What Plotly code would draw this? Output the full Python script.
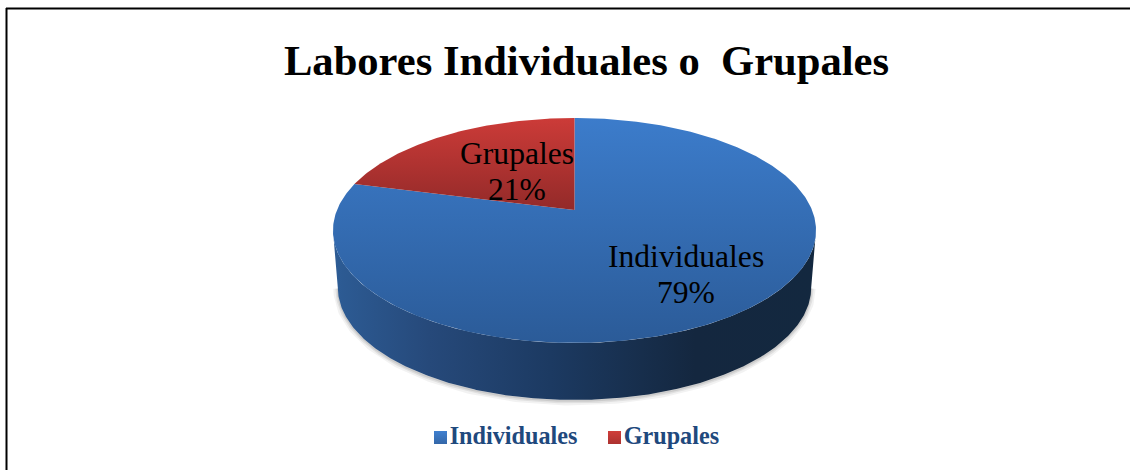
import numpy as np
import plotly.graph_objects as go

categories = ["Individuales", "Grupales"]
values = [79, 21]
title_text = "Labores Individuales o  Grupales"

SERIF = "Liberation Serif"
W, H = 1130, 470
CX, APEX_Y = 574.5, 210.0
K, B, A = 0.182, 237.5, 108.8
DEPTH_SCALE, DEPTH = 0.98, 57.0


def project(theta, drop=0.0, xscale=1.0):
    """Clockwise angle from 12 o'clock on a unit disc -> tilted perspective view."""
    u, v = np.sin(theta), np.cos(theta)
    w = 1 + K * v
    return CX + xscale * B * u / w, APEX_Y - A * v / w + drop


total = sum(values)
# Grupales occupies the wedge just before 12 o'clock; Individuales runs clockwise from 12.
ind_end = 2 * np.pi * values[0] / total
t_ind = np.linspace(0, ind_end, 400)
t_gru = np.linspace(ind_end, 2 * np.pi, 120)

fig = go.Figure()

# soft shadow
widest = np.arccos(-K)
t_shadow = np.linspace(widest, 2 * np.pi - widest, 300)
sx, sy = project(t_shadow, DEPTH + 1, DEPTH_SCALE)
for wid, alpha in [(9, 0.05), (5, 0.07), (2, 0.09)]:
    fig.add_trace(go.Scatter(x=sx, y=sy, mode="lines", hoverinfo="skip", showlegend=False,
                             line=dict(color=f"rgba(0,0,0,{alpha})", width=wid)))

# side wall: front rim between the widest points of the top and bottom discs
t_front = np.linspace(widest, 2 * np.pi - widest, 300)
tx, ty = project(t_front)
bx, by = project(t_front[::-1], DEPTH, DEPTH_SCALE)
fig.add_trace(go.Scatter(
    x=np.r_[tx, bx], y=np.r_[ty, by], mode="lines", fill="toself", hoverinfo="skip",
    showlegend=False, line=dict(width=0, color="rgba(0,0,0,0)"),
    fillgradient=dict(type="horizontal", colorscale=[
        [0, "#2d5c95"], [0.2, "#26497a"], [0.45, "#1c3a62"], [0.75, "#14273f"], [1, "#13283f"]]),
))

# top faces
ix, iy = project(t_ind)
fig.add_trace(go.Scatter(
    x=np.r_[CX, ix, CX], y=np.r_[APEX_Y, iy, APEX_Y], mode="lines", fill="toself",
    name=categories[0], hoverinfo="skip", showlegend=False, line=dict(width=0, color="rgba(0,0,0,0)"),
    fillgradient=dict(type="vertical", colorscale=[[0, "#2b5b98"], [1, "#3c7ccb"]]),
))
gx, gy = project(t_gru)
fig.add_trace(go.Scatter(
    x=np.r_[CX, gx, CX], y=np.r_[APEX_Y, gy, APEX_Y], mode="lines", fill="toself",
    name=categories[1], hoverinfo="skip", showlegend=False, line=dict(width=0, color="rgba(0,0,0,0)"),
    fillgradient=dict(type="vertical", colorscale=[[0, "#932a29"], [1, "#cc3b38"]]),
))

# slice labels: two lines each, closer together than a native <br> allows
label_x = [686, 517]
label_name_y = [256, 153]
label_pct_y = [292, 189]
for cat, val, lx, ny, py in zip(categories, values, label_x, label_name_y, label_pct_y):
    for txt, ly in ((cat, ny), (f"{val}%", py)):
        fig.add_annotation(x=lx, y=ly, xref="x", yref="y", showarrow=False, text=txt,
                           font=dict(family=SERIF, size=31.6, color="#000000"))

# legend row
leg_x = [440.5, 614.5]
leg_cols = ["#3f80d0", "#d03e3a"]
leg_end = ["#3467a8", "#ac3230"]
for cat, lx, c, e in zip(categories, leg_x, leg_cols, leg_end):
    fig.add_trace(go.Scatter(
        x=[lx], y=[437.5], mode="markers+text", text=[cat], textposition="middle right",
        textfont=dict(family=SERIF, size=24.2, color="#1f497d", weight="bold"),
        marker=dict(symbol="square", size=13, color=c, line=dict(width=0),
                    gradient=dict(type="vertical", color=e)),
        showlegend=False, hoverinfo="skip", cliponaxis=False))

fig.update_layout(
    width=W, height=H, autosize=False,
    margin=dict(l=0, r=0, t=0, b=0), paper_bgcolor="#ffffff", plot_bgcolor="#ffffff",
    title=dict(text=title_text, x=586.5 / W, xanchor="center", y=1 - 60 / H, yanchor="middle",
               font=dict(family=SERIF, size=42.6, color="#000000", weight="bold")),
    xaxis=dict(range=[0, W], visible=False, fixedrange=True, domain=[0, 1]),
    yaxis=dict(range=[H, 0], visible=False, fixedrange=True, domain=[0, 1]),
    shapes=[
        dict(type="line", xref="x", yref="y", x0=6.5, x1=6.5, y0=8, y1=H, line=dict(color="#000000", width=2)),
        dict(type="line", xref="x", yref="y", x0=6, x1=W, y0=8.5, y1=8.5, line=dict(color="#000000", width=2)),
    ],
)
fig.write_html("out.html", config={"displayModeBar": False},
               post_script="document.body.style.margin='0';document.documentElement.style.overflow='hidden';")
